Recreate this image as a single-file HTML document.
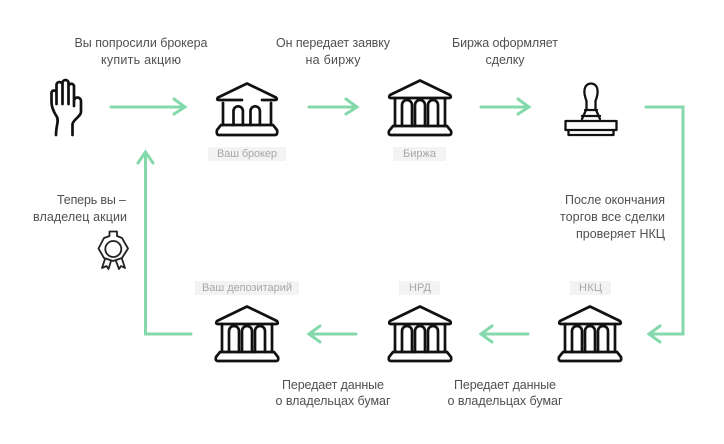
<!DOCTYPE html>
<html><head><meta charset="utf-8"><style>
html,body{margin:0;padding:0;background:#fff;width:724px;height:444px;overflow:hidden}
svg{display:block;filter:blur(0.35px)}
text{font-family:"Liberation Sans",sans-serif;font-size:12.5px;fill:#505050}
.c{text-anchor:middle}.r{text-anchor:end}
.t{font-size:11px;fill:#a8a8a8;text-anchor:middle}
.a{fill:none;stroke:#84d9ab;stroke-width:3;stroke-linecap:round;stroke-linejoin:miter}
.i{fill:none;stroke:#111;stroke-width:2.7;stroke-linecap:round;stroke-linejoin:round}
</style></head><body>
<svg width="724" height="444" viewBox="0 0 724 444" xmlns="http://www.w3.org/2000/svg">
<defs>
<g id="bank" class="i">
<path d="M33 1.500L63 16Q65 19 62 19H4Q1 19 3 16Z"/>
<path d="M8 19V47M58 19V47"/>
<path d="M15 47V26a5 5 0 0 1 10 0V47M28 47V26a5 5 0 0 1 10 0V47M41 47V26a5 5 0 0 1 10 0V47"/>
<path d="M6 47H60L64 52Q65 56 62 56H4Q1 56 2 52Z"/>
</g>
</defs>

<!-- top labels -->
<text class="c" x="141" y="47" textLength="133">Вы попросили брокера</text>
<text class="c" x="141" y="64" textLength="80">купить акцию</text>
<text class="c" x="333" y="47" textLength="114">Он передает заявку</text>
<text class="c" x="333" y="64" textLength="55">на биржу</text>
<text class="c" x="505" y="47" textLength="106">Биржа оформляет</text>
<text class="c" x="505" y="64" textLength="39">сделку</text>

<!-- right labels -->
<text class="r" x="665" y="204" textLength="100">После окончания</text>
<text class="r" x="665" y="221" textLength="105">торгов все сделки</text>
<text class="r" x="665" y="238" textLength="89">проверяет НКЦ</text>

<!-- left labels -->
<text class="r" x="126" y="204" textLength="69">Теперь вы –</text>
<text class="r" x="127" y="221" textLength="94">владелец акции</text>

<!-- bottom labels -->
<text class="c" x="333" y="389" textLength="102">Передает данные</text>
<text class="c" x="333" y="405" textLength="115">о владельцах бумаг</text>
<text class="c" x="505" y="389" textLength="102">Передает данные</text>
<text class="c" x="505" y="405" textLength="115">о владельцах бумаг</text>

<!-- tags -->
<rect x="208" y="147" width="78" height="14" fill="#f3f3f3"/>
<text class="t" x="247" y="157" textLength="60">Ваш брокер</text>
<rect x="393" y="147" width="53" height="14" fill="#f3f3f3"/>
<text class="t" x="419.500" y="157" textLength="33">Биржа</text>
<rect x="195" y="281" width="104" height="14" fill="#f3f3f3"/>
<text class="t" x="247" y="291" textLength="90">Ваш депозитарий</text>
<rect x="399" y="281" width="41" height="14" fill="#f3f3f3"/>
<text class="t" x="420" y="291" textLength="22">НРД</text>
<rect x="570" y="281" width="41" height="14" fill="#f3f3f3"/>
<text class="t" x="590.500" y="291" textLength="23">НКЦ</text>

<!-- arrows -->
<path class="a" d="M111 107H184M174 99L185 107L174 114"/>
<path class="a" d="M309 107H356M346 99L357 107L346 114"/>
<path class="a" d="M481 107H528M518 99L529 107L518 114"/>
<path class="a" d="M646 107H683V334H650M660 326L649 334L660 342"/>
<path class="a" d="M528 334H482M492 326L481 334L492 342"/>
<path class="a" d="M356 334H310M320 326L309 334L320 342"/>
<path class="a" d="M191 334H145.500V153M138 163L145.500 152L153 163"/>

<!-- hand -->
<g class="i" stroke-width="3">
<path d="M57 117C53 111 51.500 107 51.500 102V93a2.500 2.500 0 0 1 5 0V104M56.500 104V85a3 3 0 0 1 6 0V104M62.500 104V83a3 3 0 0 1 6 0V104M68.500 104V86a2.800 2.800 0 0 1 5.500 0V106M74 106V101a3.500 3.500 0 0 1 7 0V112C81 116 73 120 72.500 124V135M57 117C59 121 56 126 56 135"/>
</g>

<!-- banks -->
<g class="i">
<path d="M242 100H219Q216 100 218 97.500L247 83.500L276 97.500Q278 100 275 100H262"/>
<path d="M223 103V125M271 103V125"/>
<path d="M233.500 125V111a4.700 4.700 0 0 1 9.400 0V125M250.500 125V111a4.700 4.700 0 0 1 9.400 0V125"/>
<path d="M221 125H273L277 130Q278 135 275 135H219Q216 135 217 130Z"/>
</g>
<use href="#bank" x="387" y="79"/>
<use href="#bank" x="557" y="305"/>
<use href="#bank" x="387" y="305"/>
<use href="#bank" x="214" y="305"/>

<!-- stamp -->
<g fill="none" stroke="#111" stroke-width="2.300" stroke-linejoin="round" stroke-linecap="round">
<path d="M586.500 110V101C585 97 584 93 584.500 90C585 85.500 588 83.500 591 83.500C594 83.500 597 85.500 597.500 90C598 93 597 97 595.500 101V110"/>
<path d="M585 110H597M586 110L582 119M596 110L600 119M582 116H600"/>
<path d="M565.500 121H616.500V130H565.500ZM568.500 130V135H613.500V130"/>
</g>

<!-- medal -->
<g fill="none" stroke="#222" stroke-width="1.800" stroke-linejoin="round" stroke-linecap="round">
<path d="M109.500 231.500H117V236L122 238L128 248.500L122 258L113 261L104 258L98.500 248.500L104 238L109.500 236Z"/>
<circle cx="113.300" cy="249" r="8"/>
<path d="M105 259L102 268L106.500 266L108.500 269L111 261M116 261L119 269L121 266L125 268L122 259"/>
</g>
</svg>
</body></html>
